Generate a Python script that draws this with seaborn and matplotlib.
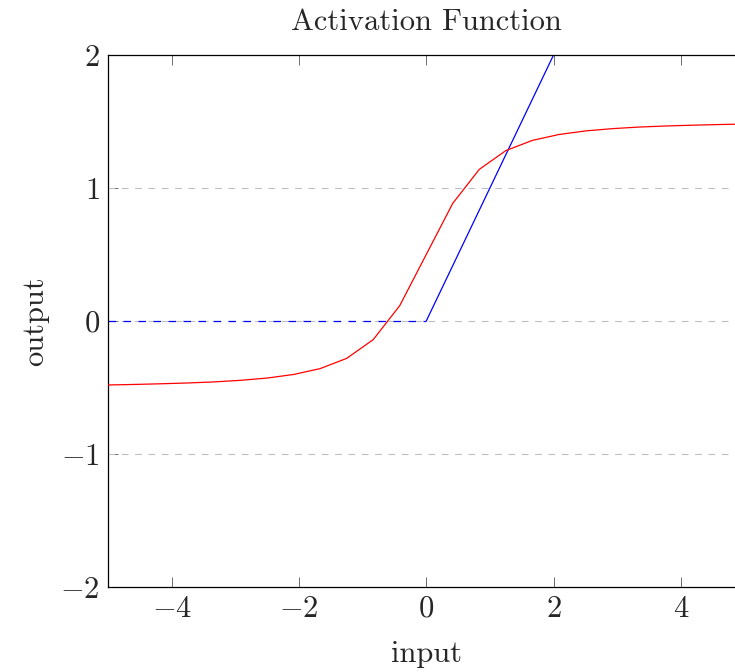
import matplotlib
matplotlib.use("Agg")
import matplotlib.pyplot as plt
import seaborn as sns
import pandas as pd

x_vals = [-5.0, -4.583, -4.167, -3.75, -3.333, -2.917, -2.5, -2.083, -1.667, -1.25, -0.833, -0.417,
          0.0, 0.417, 0.833, 1.25, 1.667, 2.083, 2.5, 2.917, 3.333, 3.75, 4.167, 4.583, 5.0]
y_vals = [-0.481, -0.477, -0.472, -0.466, -0.458, -0.446, -0.429, -0.402, -0.358, -0.281, -0.140, 0.115,
          0.5, 0.885, 1.140, 1.281, 1.358, 1.402, 1.429, 1.446, 1.458, 1.466, 1.472, 1.477, 1.481]

# blue ReLU line
relu_neg_x = [-5, 0]
relu_neg_y = [0, 0]
relu_pos_x = [0, 5]
relu_pos_y = [0, 5]

x_ticks = [-4, -2, 0, 2, 4]
y_ticks = [-2, -1, 0, 1, 2]

sns.set_style("white")
plt.rcParams['font.family'] = ['cmr10', 'DejaVu Serif']
plt.rcParams['mathtext.fontset'] = 'cm'
plt.rcParams['axes.formatter.use_mathtext'] = True
plt.rcParams['axes.unicode_minus'] = True

fig = plt.figure(figsize=(7.35, 6.72), dpi=100)
ax = fig.add_axes([108 / 735, 1 - 587 / 672, (744.5 - 108) / 735, (587 - 55) / 672])

df = pd.DataFrame({'input': x_vals, 'output': y_vals})

for yt in [-1, 0, 1]:
    ax.axhline(yt, color='#bfbfbf', lw=0.8, dashes=(6, 6), zorder=1)

sns.lineplot(data=df, x='input', y='output', color='red', lw=0.9, ax=ax, zorder=3)
sns.lineplot(x=relu_neg_x, y=relu_neg_y, color='blue', lw=0.9, ax=ax, zorder=2)
ax.lines[-1].set_dashes((6, 6))
sns.lineplot(x=relu_pos_x, y=relu_pos_y, color='blue', lw=0.9, ax=ax, zorder=2)

ax.set_xlim(-5, 5)
ax.set_ylim(-2, 2)
ax.set_xticks(x_ticks)
ax.set_yticks(y_ticks)
ax.tick_params(direction='in', length=7, width=0.6, color='#555555', labelsize=22,
               top=True, bottom=True, left=True, right=False, pad=6)
for s in ax.spines.values():
    s.set_linewidth(0.9)
    s.set_color('black')

ax.set_title("Activation Function", fontsize=22, pad=18)
ax.set_xlabel("input", fontsize=22, labelpad=13)
ax.set_ylabel("output", fontsize=22, labelpad=8)

fig.savefig("out.png", dpi=100)
